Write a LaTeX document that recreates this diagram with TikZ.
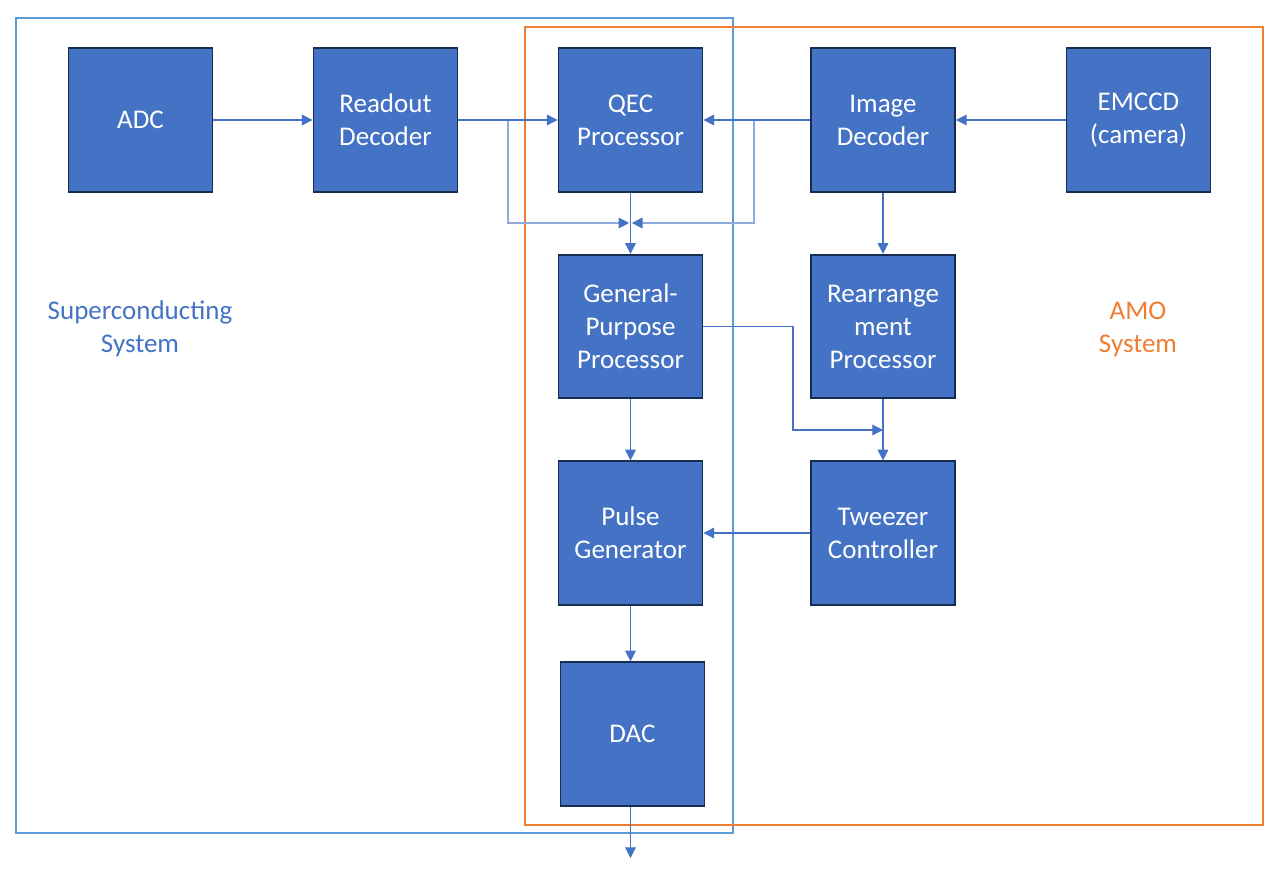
\documentclass[tikz,border=0pt]{standalone}
\usepackage{fontspec}
\setmainfont{Carlito}
\usepackage{tikz}
\usetikzlibrary{arrows.meta}
\definecolor{boxfill}{HTML}{4472C4}
\definecolor{boxline}{HTML}{172C51}
\definecolor{sysblue}{HTML}{5B9BD5}
\definecolor{sysorange}{HTML}{ED7D31}
\definecolor{linkblue}{HTML}{4472C4}
\definecolor{fbblue}{HTML}{8FAADC}
\tikzset{
    block/.style={rectangle,draw=boxline,line width=1.4pt,fill=boxfill,text=white,
        minimum width=108pt,minimum height=107.5pt,inner sep=0pt,align=center,
        font=\fontsize{20.25}{24.75}\selectfont},
    link/.style={draw=linkblue,line width=0.8pt,-{Triangle[width=8pt,length=8pt]}},
    fb/.style={draw=fbblue,line width=0.8pt,-{Triangle[width=8pt,length=8pt,color=linkblue]}},
    syslabel/.style={align=center,font=\fontsize{20.25}{24.75}\selectfont}
}
\begin{document}
\begin{tikzpicture}[x=0.75pt,y=-0.75pt]
    \useasboundingbox (0,0) rectangle (1278,873);
    % systems
    \draw[sysblue,line width=1.5pt] (16,18) rectangle (733,833);
    \draw[sysorange,line width=1.5pt] (525,27) rectangle (1263,825);
    \node[syslabel,text=linkblue] (sclab) at (140,329) {Superconducting\\System};
    \node[syslabel,text=sysorange] (amolab) at (1138,329) {AMO\\System};

    % top row
    \node[block] (adc) at (140.5,120) {ADC};
    \node[block] (rdec) at (385.5,120) {Readout\\Decoder};
    \node[block] (qec) at (630.5,120) {QEC\\Processor};
    \node[block] (idec) at (883,120) {Image\\Decoder};
    \node[block] (emccd) at (1138.5,120) {EMCCD\\(camera)};

    % middle rows
    \node[block] (gpp) at (630.5,326.5) {General-\\Purpose\\Processor};
    \node[block] (rap) at (883,326.5) {Rearrange\\ment\\Processor};
    \node[block] (pgen) at (630.5,533) {Pulse\\Generator};
    \node[block] (twz) at (883,533) {Tweezer\\Controller};
    \node[block] (dac) at (632.5,734) {DAC};

    \coordinate (jl) at (508,120);
    \coordinate (jr) at (754,120);
    \coordinate (mid) at (630.5,223);
    \coordinate (gpj) at (793,326.5);
    \coordinate (twj) at (883,430);
    \coordinate (out) at (630.5,858);

    % links
    \draw[fb] (jl) |- ([xshift=-1]mid);
    \draw[fb] (jr) |- ([xshift=1]mid);
    \draw[link] (adc) -- (rdec);
    \draw[link] (rdec) -- (qec);
    \draw[link] (emccd) -- (idec);
    \draw[link] (idec) -- (qec);
    \draw[link] (qec) -- (gpp);
    \draw[link] (idec) -- (rap);
    \draw[link] (gpp.east) -- (gpj) |- (twj);
    \draw[link] (rap) -- (twz);
    \draw[link] (gpp) -- (pgen);
    \draw[link] (twz) -- (pgen);
    \draw[link] (pgen.south) -- (pgen.south |- dac.north);
    \draw[link] (pgen.south |- dac.south) -- (out);
\end{tikzpicture}
\end{document}
